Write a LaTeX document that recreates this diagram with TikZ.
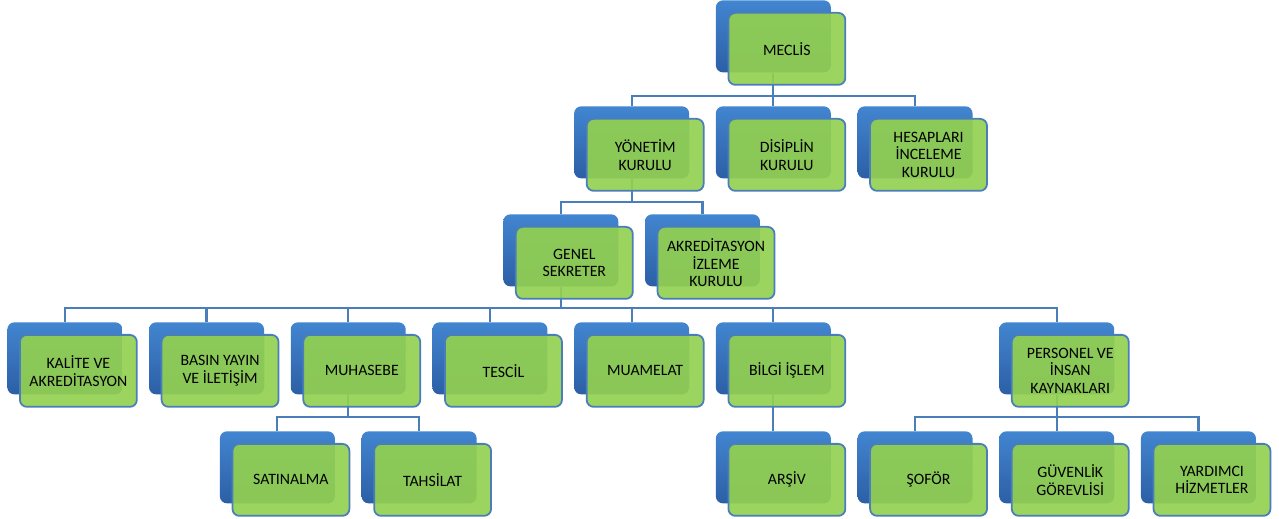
\documentclass[tikz,border=0pt]{standalone}
\usepackage{fontspec}
\setmainfont{Carlito}
\usetikzlibrary{positioning,backgrounds}

\definecolor{boxgreen}{RGB}{146,208,80}
\definecolor{boxblueT}{RGB}{66,133,208}
\definecolor{boxblueB}{RGB}{44,95,165}
\definecolor{linkblue}{RGB}{74,126,187}

\tikzset{
	backbox/.style={anchor=north west, rounded corners=4pt, inner sep=0pt,
		top color=boxblueT, bottom color=boxblueB, draw=none,
		minimum width=2.3cm, minimum height=1.44cm},
	frontbox/.style={anchor=north west, rounded corners=4pt, inner sep=1pt,
		fill=boxgreen, fill opacity=0.92, text opacity=1, draw=linkblue, line width=1pt,
		minimum width=2.34cm, minimum height=1.44cm, align=center,
		font=\fontsize{9}{10}\selectfont},
	link/.style={draw=linkblue, line width=1.2pt}
}

\begin{document}
\begin{tikzpicture}[x=0.02cm,y=-0.02cm]

		\useasboundingbox (0,0) rectangle (1279,519);

		% units: name / column / top / text
		\foreach \nm/\k/\y/\txt in {
				mec/5/0/{MECLİS},
				yon/4/106/{YÖNETİM\\KURULU},
				dis/5/106/{DİSİPLİN\\KURULU},
				hes/6/106/{HESAPLARI\\İNCELEME\\KURULU},
				gen/3.5/214/{GENEL\\SEKRETER},
				akr/4.5/214/{AKREDİTASYON\\İZLEME\\KURULU},
				kal/0/322/{KALİTE VE\\AKREDİTASYON},
				bas/1/322/{BASIN YAYIN\\VE İLETİŞİM},
				muh/2/322/{MUHASEBE},
				tes/3/322/{TESCİL},
				mua/4/322/{MUAMELAT},
				bil/5/322/{BİLGİ İŞLEM},
				per/7/322/{PERSONEL VE\\İNSAN\\KAYNAKLARI},
				sat/1.5/431/{SATINALMA},
				tah/2.5/431/{TAHSİLAT},
				ars/5/431/{ARŞİV},
				sof/6/431/{ŞOFÖR},
				guv/7/431/{GÜVENLİK\\GÖREVLİSİ},
				yar/8/431/{YARDIMCI\\HİZMETLER}}
		{
			\node[backbox] (\nm-b) at ({7+141.7*\k},\y) {};
			\node[frontbox] (\nm) at ({19+141.7*\k},{\y+12}) {\txt};
		}

		% connectors
		\coordinate (bus1) at (0,96);
		\coordinate (bus2) at (0,202);
		\coordinate (bus3) at (0,308);
		\coordinate (bus4) at (0,417);

		\begin{pgfonlayer}{background}
			\foreach \c in {yon,dis,hes}
				\draw[link] (mec-b.south) -- (mec-b.south |- bus1) -| (\c-b.north);
			\foreach \c in {gen,akr}
				\draw[link] (yon-b.south) -- (yon-b.south |- bus2) -| (\c-b.north);
			\foreach \c in {kal,bas,muh,tes,mua,bil,per}
				\draw[link] (gen-b.south) -- (gen-b.south |- bus3) -| (\c-b.north);
			\foreach \c in {sat,tah}
				\draw[link] (muh-b.south) -- (muh-b.south |- bus4) -| (\c-b.north);
			\draw[link] (bil-b.south) -- (ars-b.north);
			\foreach \c in {sof,guv,yar}
				\draw[link] (per-b.south) -- (per-b.south |- bus4) -| (\c-b.north);
		\end{pgfonlayer}

\end{tikzpicture}
\end{document}
